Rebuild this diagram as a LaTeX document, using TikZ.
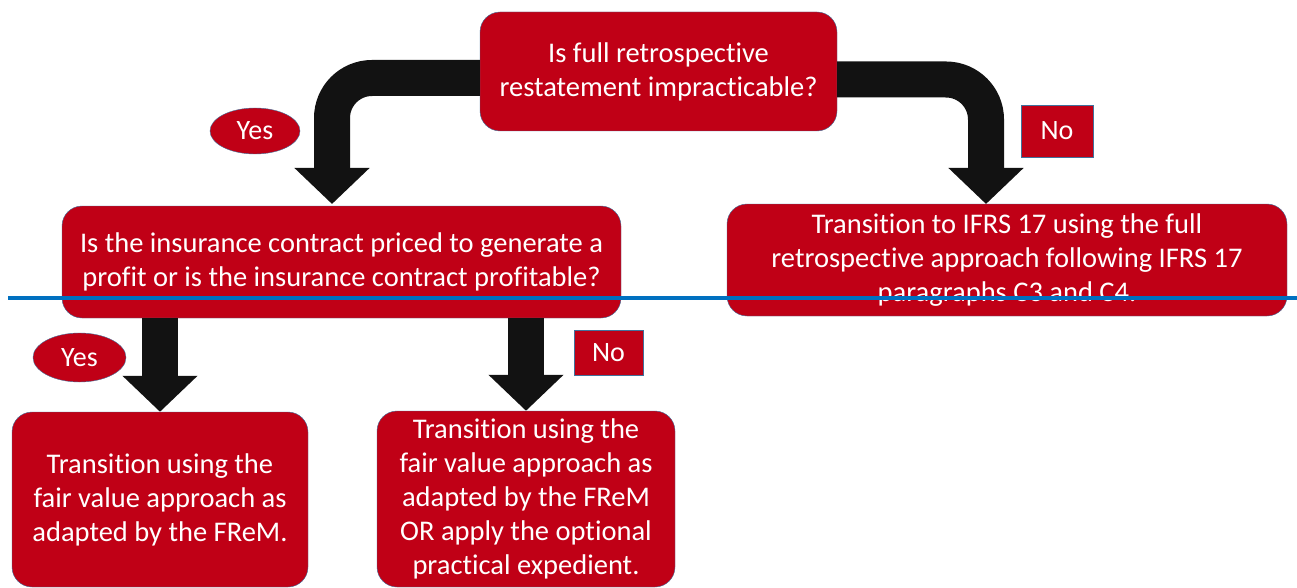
\documentclass[tikz,border=0pt]{standalone}
\usepackage{fontspec}
\setmainfont{Carlito}[Ligatures=NoCommon]
\usetikzlibrary{arrows.meta,shapes.geometric}
\definecolor{boxred}{RGB}{192,0,22}
\definecolor{edgeblue}{RGB}{65,113,156}
\definecolor{lineblue}{RGB}{0,112,192}

\begin{document}
\begin{tikzpicture}[x=1pt, y=-1pt,
    box/.style={draw=edgeblue, fill=boxred, text=white, rounded corners=20pt, align=center, inner sep=0pt, font=\fontsize{28.5}{34}\selectfont},
    yes/.style={draw=edgeblue, fill=boxred, text=white, ellipse, inner sep=0pt, font=\fontsize{28}{30}\selectfont},
    no/.style={draw=edgeblue, fill=boxred, text=white, rectangle, inner sep=0pt, font=\fontsize{28}{30}\selectfont},
    bigarrow/.style={line width=36pt, black!93, rounded corners=40pt, -{Triangle[length=36pt,width=73pt]}}]

    \useasboundingbox (0, 0) rectangle (1297, 588);

    \node[box, minimum width=357pt, minimum height=119pt] (a) at (658.5, 71.5) {Is full retrospective\\restatement impracticable?};
    \node[box, minimum width=559pt, minimum height=112pt] (b) at (341.5, 262) {Is the insurance contract priced to generate a\\profit or is the insurance contract profitable?};
    \node[box, minimum width=560pt, minimum height=112pt] (c) at (1007, 260) {Transition to IFRS 17 using the full\\retrospective approach following IFRS 17\\paragraphs C3 and C4.};
    \node[box, minimum width=296pt, minimum height=175pt] (d) at (160, 499.5) {Transition using the\\fair value approach as\\adapted by the FReM.};
    \node[box, minimum width=298pt, minimum height=176pt] (e) at (526, 499) {Transition using the\\fair value approach as\\adapted by the FReM\\OR apply the optional\\practical expedient.};

    \node[yes, minimum width=90pt, minimum height=46pt] (f) at (255, 131) {Yes};
    \node[no, minimum width=72pt, minimum height=52pt] (g) at (1057, 131) {No};
    \node[yes, minimum width=93pt, minimum height=49pt] (h) at (79.5, 357.5) {Yes};
    \node[no, minimum width=69pt, minimum height=45pt] (i) at (608.5, 353) {No};

    \coordinate (j) at (332, 204);
    \coordinate (k) at (986, 204);

    \draw [bigarrow] ([yshift=-6.5pt]a.west) -| (j);
    \draw [bigarrow] ([yshift=-8pt]a.east) -| (k);
    \draw [bigarrow] (d.north |- b.south) -- (d.north);
    \draw [bigarrow] (e.north |- b.south) -- (e.north);

    \draw [lineblue, line width=4pt] (8, 298) -- (1297, 298);

  \end{tikzpicture}
\end{document}
